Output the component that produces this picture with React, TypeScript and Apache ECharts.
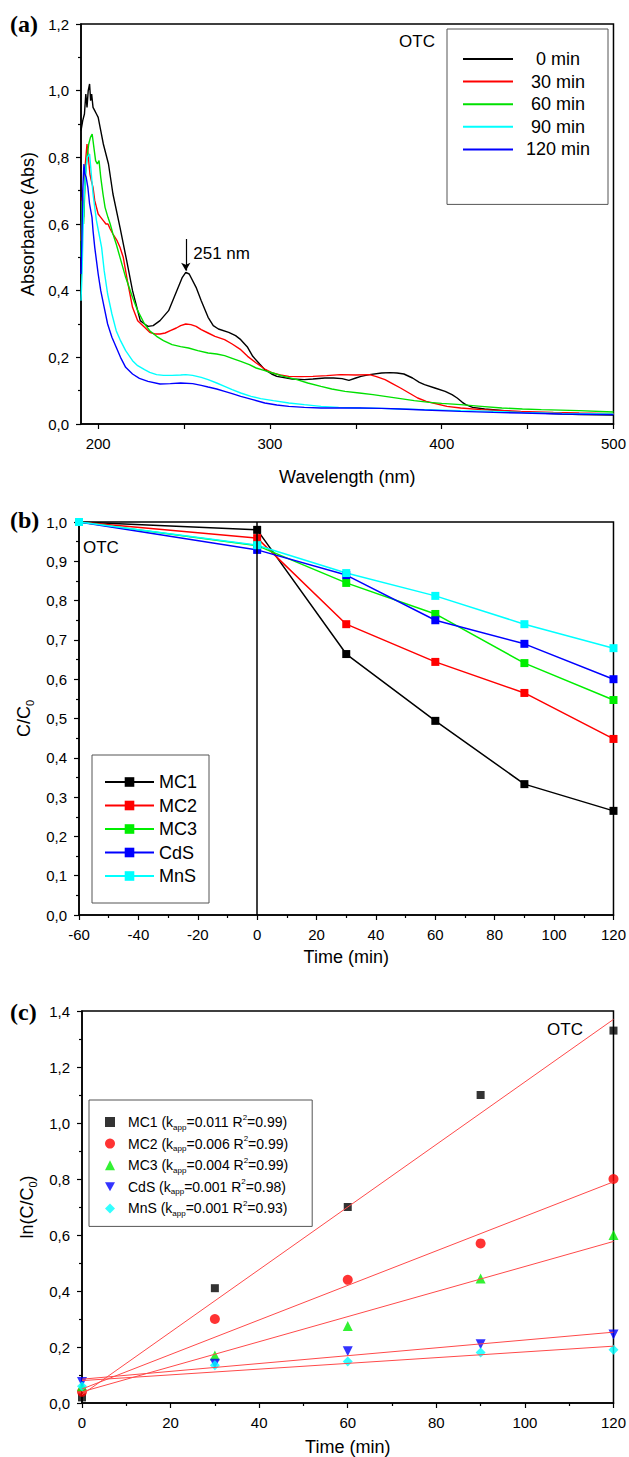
import React, { useEffect, useRef } from 'react';
import * as echarts from 'echarts';

const FONT = '"Liberation Sans", Arial, Helvetica, sans-serif';
const SERIF = '"Liberation Serif", "Times New Roman", serif';

// ---------- (a) UV-Vis spectra ----------
const spectraNames = ['0 min', '30 min', '60 min', '90 min', '120 min'];
const spectraColors = ['#000000', '#ff0000', '#00e000', '#00ffff', '#0000ff'];
const spec0 = [
  [190, 0.88], [191, 0.91], [192, 0.93], [192.8, 0.99], [193.5, 0.95], [194.2, 1.0], [195, 1.02], [195.6, 0.97],
  [196.2, 0.99], [197, 0.95], [198, 0.94], [199, 0.93], [200, 0.92], [201.5, 0.88], [203, 0.84], [206, 0.78],
  [208.6, 0.69], [212.7, 0.59], [216.6, 0.49], [220, 0.4], [224.5, 0.31], [227, 0.3], [229, 0.293], [232, 0.295],
  [236, 0.31], [241, 0.34], [245, 0.39], [249, 0.44], [251, 0.455], [253, 0.45], [257, 0.41], [260, 0.37],
  [264, 0.32], [267, 0.295], [270, 0.285], [276, 0.275], [280, 0.265], [283, 0.253], [287, 0.23], [290, 0.203],
  [294, 0.18], [297, 0.163], [301, 0.15], [304, 0.143], [313, 0.135], [320, 0.133], [325, 0.135], [332, 0.138],
  [337, 0.138], [342, 0.136], [346, 0.131], [350, 0.138], [353, 0.143], [358, 0.148], [365, 0.153], [370, 0.154],
  [374, 0.153], [378, 0.15], [383, 0.138], [387, 0.125], [390, 0.118], [396, 0.108], [402, 0.098], [406, 0.088],
  [409, 0.078], [412, 0.065], [414, 0.058], [418, 0.05], [425, 0.045], [440, 0.038], [460, 0.032], [480, 0.028],
  [500, 0.027],
];
const spec30 = [
  [190, 0.55], [190.8, 0.68], [191.5, 0.62], [192.5, 0.78], [193.5, 0.84], [194.3, 0.8], [195.2, 0.75], [196, 0.73],
  [197, 0.71], [198, 0.67], [200, 0.63], [201.5, 0.62], [203, 0.61], [204.5, 0.6], [205.7, 0.6], [207, 0.585],
  [208.6, 0.57], [211, 0.55], [212.7, 0.53], [214.6, 0.5], [217, 0.43], [220, 0.35], [223, 0.31], [227, 0.29],
  [230, 0.275], [233, 0.27], [236, 0.27], [239, 0.273], [242, 0.28], [245.5, 0.288], [248, 0.295], [251, 0.3],
  [254, 0.298], [257, 0.293], [260, 0.283], [264, 0.273], [268, 0.263], [273.6, 0.253], [278, 0.24], [283, 0.223],
  [287, 0.203], [292, 0.183], [297, 0.165], [301.6, 0.153], [306, 0.147], [311, 0.143], [318, 0.142], [325, 0.143],
  [333, 0.145], [341, 0.148], [350, 0.147], [358, 0.148], [362, 0.142], [367, 0.133], [371, 0.122], [376, 0.108],
  [381, 0.093], [386, 0.078], [391, 0.068], [395, 0.063], [403, 0.053], [411, 0.048], [423, 0.043], [446, 0.038],
  [465, 0.035], [480, 0.033], [500, 0.031],
];
const spec60 = [
  [190, 0.5], [190.6, 0.67], [191.5, 0.6], [192.5, 0.74], [193.5, 0.8], [194.5, 0.84], [195.5, 0.86], [196.5, 0.87],
  [197.5, 0.83], [198.5, 0.79], [199.5, 0.78], [200.5, 0.79], [201.5, 0.74], [202.8, 0.69], [204, 0.65], [205.7, 0.62],
  [207, 0.6], [208.6, 0.57], [210.5, 0.54], [212.7, 0.5], [216, 0.44], [220, 0.38], [223, 0.34], [227, 0.3],
  [230, 0.28], [234, 0.263], [238, 0.25], [243, 0.238], [248, 0.232], [252.6, 0.228], [258, 0.22], [264, 0.213],
  [269, 0.21], [273.6, 0.205], [278, 0.197], [283, 0.188], [288, 0.178], [292, 0.168], [297, 0.16], [301.6, 0.153],
  [308, 0.143], [315.7, 0.133], [322, 0.123], [329.7, 0.113], [336, 0.105], [343.7, 0.098], [352, 0.093], [360, 0.088],
  [368, 0.082], [376, 0.076], [384, 0.07], [392.8, 0.065], [400, 0.062], [411, 0.058], [423, 0.053], [435, 0.048],
  [447, 0.045], [458, 0.043], [480, 0.04], [500, 0.036],
];
const spec90 = [
  [190, 0.37], [190.6, 0.45], [191.3, 0.6], [192, 0.7], [192.8, 0.76], [193.6, 0.8], [195, 0.81], [196, 0.75],
  [197, 0.69], [198, 0.65], [199, 0.61], [200.5, 0.57], [202, 0.53], [203.5, 0.46], [205.5, 0.39], [208, 0.33],
  [210.5, 0.28], [213, 0.25], [216, 0.22], [220, 0.19], [223, 0.175], [227, 0.163], [230, 0.155], [234, 0.148],
  [238, 0.146], [243, 0.146], [248, 0.147], [251, 0.148], [255, 0.146], [260, 0.14], [264, 0.133], [269, 0.123],
  [273.6, 0.113], [278, 0.103], [283, 0.093], [289, 0.083], [294.6, 0.076], [302, 0.07], [311, 0.063], [320, 0.058],
  [329.7, 0.053], [340, 0.05], [353, 0.048], [365, 0.047], [376, 0.045], [390, 0.043], [411, 0.04], [430, 0.038],
  [446.5, 0.035], [470, 0.032], [500, 0.03],
];
const spec120 = [
  [190, 0.45], [190.5, 0.55], [191, 0.7], [191.7, 0.78], [192.3, 0.75], [193, 0.74], [194, 0.71], [195, 0.66],
  [196.4, 0.62], [197, 0.58], [198, 0.53], [199, 0.49], [200, 0.45], [201.5, 0.4], [203.5, 0.35], [205.5, 0.3],
  [208, 0.26], [210.5, 0.23], [213, 0.2], [216, 0.17], [220, 0.15], [224, 0.137], [229, 0.128], [236, 0.12],
  [242, 0.121], [248, 0.123], [255, 0.121], [260, 0.116], [264, 0.111], [269, 0.105], [273.6, 0.098], [278, 0.091],
  [283, 0.083], [290, 0.073], [297, 0.063], [304, 0.057], [311, 0.053], [320, 0.05], [329.7, 0.048], [340, 0.048],
  [353, 0.048], [365, 0.047], [376, 0.045], [390, 0.042], [411, 0.038], [430, 0.035], [446.5, 0.033], [470, 0.03],
  [500, 0.028],
];
const spectra = [spec0, spec30, spec60, spec90, spec120];
const wlLabels = [200, 300, 400, 500];
const wlTicks = [200, 250, 300, 350, 400, 450, 500];
const peakWl = 251;

// ---------- (b) C/C0 vs time ----------
const timeB = [-60, 0, 30, 60, 90, 120];
const namesB = ['MC1', 'MC2', 'MC3', 'CdS', 'MnS'];
const colorsB = ['#000000', '#ff0000', '#00ee00', '#0000ff', '#00ffff'];
const mc1B = [1.0, 0.98, 0.664, 0.494, 0.333, 0.265];
const mc2B = [1.0, 0.959, 0.74, 0.644, 0.565, 0.448];
const mc3B = [1.0, 0.94, 0.845, 0.766, 0.641, 0.547];
const cdsB = [1.0, 0.929, 0.865, 0.75, 0.69, 0.6];
const mnsB = [1.0, 0.941, 0.87, 0.812, 0.74, 0.679];
const valuesB = [mc1B, mc2B, mc3B, cdsB, mnsB];

// ---------- (c) ln(C/C0) vs time ----------
const timeC = [0, 30, 60, 90, 120];
const namesC = [
  'MC1 (kapp=0.011 R2=0.99)',
  'MC2 (kapp=0.006 R2=0.99)',
  'MC3 (kapp=0.004 R2=0.99)',
  'CdS (kapp=0.001 R2=0.98)',
  'MnS (kapp=0.001 R2=0.93)',
];
const colorsC = ['#000000', '#ff0000', '#00ee00', '#0000ff', '#00ffff'];
const symbolsC = ['rect', 'circle', 'triangle', 'path://M0,0 L10,0 L5,9 Z', 'diamond'];
const mc1C = [0.02, 0.41, 0.7, 1.1, 1.33];
const mc2C = [0.04, 0.3, 0.44, 0.57, 0.8];
const mc3C = [0.06, 0.17, 0.275, 0.445, 0.6];
const cdsC = [0.075, 0.14, 0.185, 0.21, 0.245];
const mnsC = [0.06, 0.135, 0.148, 0.18, 0.19];
const valuesC = [mc1C, mc2C, mc3C, cdsC, mnsC];
const fitX = [0, 120];
const mc1Fit = [0.03, 1.37];
const mc2Fit = [0.05, 0.79];
const mc3Fit = [0.04, 0.577];
const cdsFit = [0.085, 0.253];
const mnsFit = [0.08, 0.203];
const fitsC = [mc1Fit, mc2Fit, mc3Fit, cdsFit, mnsFit];

const comma = (v: number) => v.toFixed(1).replace('.', ',');

function baseAxis(gridIndex: number) {
  return {
    type: 'value',
    gridIndex,
    axisLine: { show: true, onZero: false, lineStyle: { color: '#000', width: 1.5 } },
    axisTick: { show: true, length: 5, lineStyle: { color: '#000', width: 1.2 } },
    minorTick: { show: true, splitNumber: 2, length: 3, lineStyle: { color: '#000', width: 1.2 } },
    splitLine: { show: false },
    axisLabel: { color: '#000', fontSize: 15, fontFamily: FONT, margin: 12 },
    nameLocation: 'middle',
    nameTextStyle: { color: '#000', fontSize: 18, fontFamily: FONT },
  } as any;
}

export default function App() {
  const ref = useRef<HTMLDivElement>(null);
  useEffect(() => {
    if (!ref.current) return;
    const chart = echarts.init(ref.current, null, { renderer: 'svg' });

    const subRich = {
      sub: { fontSize: 11, lineHeight: 12, verticalAlign: 'bottom', fontFamily: FONT, color: '#000' },
    };

    const xAxes = [
      {
        ...baseAxis(0),
        min: 190,
        max: 500,
        name: 'Wavelength (nm)',
        nameGap: 44,
        minorTick: { show: false },
        axisTick: { show: true, length: 5, customValues: wlTicks, lineStyle: { color: '#000', width: 1.2 } },
        axisLabel: { color: '#000', fontSize: 15, fontFamily: FONT, margin: 12, customValues: wlLabels },
      },
      {
        ...baseAxis(1),
        min: -60,
        max: 120,
        interval: 20,
        name: 'Time (min)',
        nameGap: 33,
      },
      {
        ...baseAxis(2),
        min: 0,
        max: 120,
        interval: 20,
        name: 'Time (min)',
        nameGap: 35,
      },
    ];
    const yAxes = [
      {
        ...baseAxis(0),
        min: 0,
        max: 1.2,
        interval: 0.2,
        name: 'Absorbance (Abs)',
        nameGap: 44,
        axisLabel: { color: '#000', fontSize: 15, fontFamily: FONT, margin: 12, formatter: comma },
      },
      {
        ...baseAxis(1),
        min: 0,
        max: 1,
        interval: 0.1,
        name: 'C/C{sub|0}',
        nameGap: 43,
        nameTextStyle: { color: '#000', fontSize: 18, fontFamily: FONT, lineHeight: 22, rich: subRich },
        axisLabel: { color: '#000', fontSize: 15, fontFamily: FONT, margin: 12, formatter: comma },
      },
      {
        ...baseAxis(2),
        min: 0,
        max: 1.4,
        interval: 0.2,
        name: 'ln(C/C{sub|0})',
        nameGap: 42,
        nameTextStyle: { color: '#000', fontSize: 18, fontFamily: FONT, lineHeight: 22, rich: subRich },
        axisLabel: { color: '#000', fontSize: 15, fontFamily: FONT, margin: 12, formatter: comma },
      },
    ];

    const series: any[] = [];
    spectra.forEach((d, i) => {
      const s: any = {
        type: 'line',
        name: spectraNames[i],
        xAxisIndex: 0,
        yAxisIndex: 0,
        data: d,
        symbol: 'none',
        showSymbol: false,
        color: spectraColors[i],
        lineStyle: { width: 1.4, color: spectraColors[i] },
      };
      if (i === 0) {
        const peakVal = d.find((p) => p[0] === peakWl)![1];
        s.markLine = {
          silent: true,
          symbol: ['none', 'arrow'],
          symbolSize: [7, 8],
          lineStyle: { color: '#000', width: 1.2, type: 'solid' },
          label: { show: false },
          data: [[{ coord: [peakWl, peakVal + 0.1] }, { coord: [peakWl, peakVal + 0.005] }]],
        };
        s.markPoint = {
          silent: true,
          symbol: 'circle',
          symbolSize: 1,
          itemStyle: { color: 'rgba(0,0,0,0)' },
          label: {
            show: true,
            position: 'right',
            distance: 7,
            formatter: `${peakWl} nm`,
            color: '#000',
            fontSize: 17,
            fontFamily: FONT,
          },
          data: [{ coord: [peakWl, peakVal + 0.058] }],
        };
      }
      series.push(s);
    });

    valuesB.forEach((vals, i) => {
      const s: any = {
        type: 'line',
        name: namesB[i],
        xAxisIndex: 1,
        yAxisIndex: 1,
        data: timeB.map((t, k) => [t, vals[k]]),
        symbol: 'rect',
        symbolSize: 8,
        showSymbol: true,
        color: colorsB[i],
        lineStyle: { width: 1.5, color: colorsB[i] },
        itemStyle: { color: colorsB[i] },
      };
      if (i === 0) {
        s.markLine = {
          silent: true,
          symbol: 'none',
          lineStyle: { color: '#000', width: 1.5, type: 'solid' },
          label: { show: false },
          data: [{ xAxis: 0 }],
        };
      }
      series.push(s);
    });

    fitsC.forEach((f, i) => {
      series.push({
        type: 'line',
        name: 'fit ' + namesB[i],
        xAxisIndex: 2,
        yAxisIndex: 2,
        data: fitX.map((x, k) => [x, f[k]]),
        symbol: 'none',
        color: '#ff4a4a',
        lineStyle: { width: 1, color: '#ff4a4a' },
        z: 3,
      });
    });
    valuesC.forEach((vals, i) => {
      series.push({
        type: 'scatter',
        name: namesC[i],
        xAxisIndex: 2,
        yAxisIndex: 2,
        data: timeC.map((t, k) => [t, vals[k]]),
        symbol: symbolsC[i],
        symbolSize: i === 0 ? 8 : 10,
        color: colorsC[i],
        itemStyle: { color: colorsC[i] },
        z: 2,
      });
    });

    const richC = {
      sub: { fontSize: 8, lineHeight: 9, verticalAlign: 'bottom', fontFamily: FONT, color: '#000' },
      sup: { fontSize: 8, lineHeight: 9, verticalAlign: 'top', fontFamily: FONT, color: '#000' },
    };

    const option: any = {
      animation: false,
      backgroundColor: '#ffffff',
      textStyle: { fontFamily: FONT },
      grid: [
        { left: 81, top: 24, width: 533, height: 400, show: true, borderColor: '#000', borderWidth: 1.5, backgroundColor: 'transparent' },
        { left: 79, top: 522, width: 535, height: 393, show: true, borderColor: '#000', borderWidth: 1.5, backgroundColor: 'transparent' },
        { left: 82, top: 1011, width: 535, height: 393, show: true, borderColor: '#000', borderWidth: 1.5, backgroundColor: 'transparent' },
      ],
      xAxis: xAxes,
      yAxis: yAxes,
      legend: [
        {
          data: spectraNames,
          selectedMode: false,
          orient: 'vertical',
          left: 447,
          top: 29,
          padding: [21, 10, 46, 16],
          itemGap: 4.6,
          itemWidth: 50,
          itemHeight: 2,
          icon: 'rect',
          borderColor: '#555',
          borderWidth: 1,
          formatter: (n: string) => `{c|${n}}`,
          textStyle: {
            color: '#000',
            fontSize: 18,
            fontFamily: FONT,
            rich: { c: { width: 80, align: 'center', fontSize: 18, lineHeight: 20, fontFamily: FONT, color: '#000' } },
          },
        },
        {
          data: namesB,
          selectedMode: false,
          orient: 'vertical',
          left: 92,
          top: 755,
          padding: [17, 12, 17, 12],
          itemGap: 3.5,
          itemWidth: 49,
          itemHeight: 12,
          borderColor: '#555',
          borderWidth: 1,
          textStyle: { color: '#000', fontSize: 18, lineHeight: 20, fontFamily: FONT },
        },
        {
          data: namesC,
          selectedMode: false,
          orient: 'vertical',
          left: 89,
          top: 1100,
          padding: [13, 24, 9, 16],
          itemGap: 3.6,
          itemWidth: 10,
          itemHeight: 10,
          borderColor: '#555',
          borderWidth: 1,
          formatter: (n: string) => n.replace('kapp', 'k{sub|app}').replace('R2', 'R{sup|2}'),
          textStyle: { color: '#000', fontSize: 14, lineHeight: 18, fontFamily: FONT, padding: [0, 0, 0, 8], rich: richC },
        },
      ],
      series,
      graphic: [
        { type: 'text', x: 10, y: 24, style: { text: '(a)', font: `bold 24px ${SERIF}`, fill: '#000', verticalAlign: 'middle' } },
        { type: 'text', x: 10, y: 520, style: { text: '(b)', font: `bold 24px ${SERIF}`, fill: '#000', verticalAlign: 'middle' } },
        { type: 'text', x: 10, y: 1012, style: { text: '(c)', font: `bold 24px ${SERIF}`, fill: '#000', verticalAlign: 'middle' } },
        { type: 'text', x: 417, y: 41, style: { text: 'OTC', font: `17px ${FONT}`, fill: '#000', align: 'center', verticalAlign: 'middle' } },
        { type: 'text', x: 83, y: 547, style: { text: 'OTC', font: `17px ${FONT}`, fill: '#000', align: 'left', verticalAlign: 'middle' } },
        { type: 'text', x: 565, y: 1029, style: { text: 'OTC', font: `17px ${FONT}`, fill: '#000', align: 'center', verticalAlign: 'middle' } },
      ],
    };
    chart.setOption(option);
    return () => chart.dispose();
  }, []);

  return (
    <div
      ref={ref}
      style={{ position: 'absolute', left: 0, top: 0, width: 629, height: 1457, background: '#fff' }}
    />
  );
}
